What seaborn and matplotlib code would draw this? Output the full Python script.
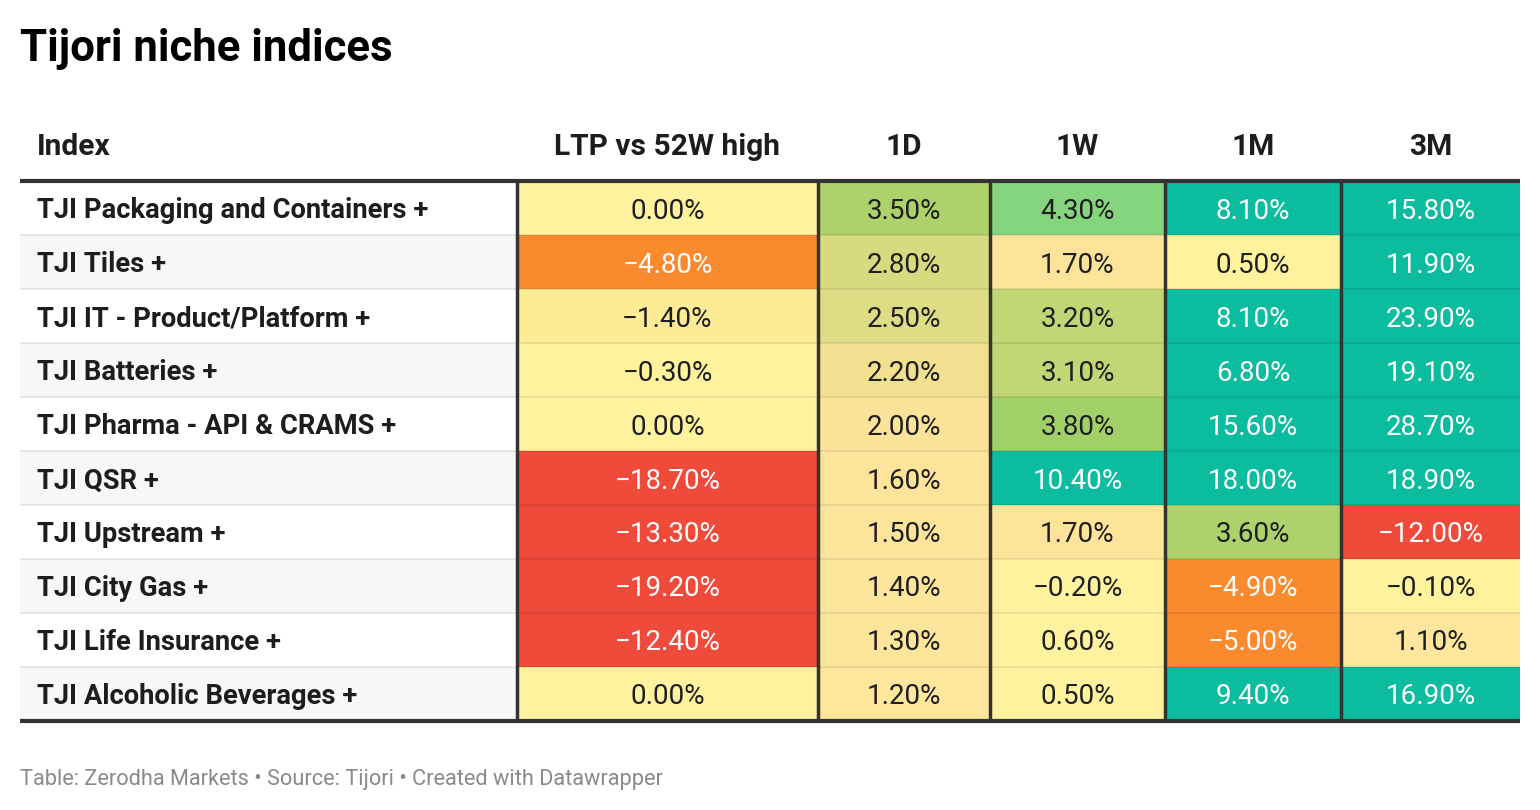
import matplotlib
matplotlib.use("Agg")
import matplotlib.pyplot as plt
import numpy as np
import pandas as pd
import seaborn as sns
from matplotlib.colors import LinearSegmentedColormap
from matplotlib.patches import Rectangle

# --- data ---
index_names = [
    "TJI Packaging and Containers +",
    "TJI Tiles +",
    "TJI IT - Product/Platform +",
    "TJI Batteries +",
    "TJI Pharma - API & CRAMS +",
    "TJI QSR +",
    "TJI Upstream +",
    "TJI City Gas +",
    "TJI Life Insurance +",
    "TJI Alcoholic Beverages +",
]
ltp_vs_high = [0.0, -4.8, -1.4, -0.3, 0.0, -18.7, -13.3, -19.2, -12.4, 0.0]
ret_1d = [3.5, 2.8, 2.5, 2.2, 2.0, 1.6, 1.5, 1.4, 1.3, 1.2]
ret_1w = [4.3, 1.7, 3.2, 3.1, 3.8, 10.4, 1.7, -0.2, 0.6, 0.5]
ret_1m = [8.1, 0.5, 8.1, 6.8, 15.6, 18.0, 3.6, -4.9, -5.0, 9.4]
ret_3m = [15.8, 11.9, 23.9, 19.1, 28.7, 18.9, -12.0, -0.1, 1.1, 16.9]
columns = ["LTP vs 52W high", "1D", "1W", "1M", "3M"]

df = pd.DataFrame(
    {c: v for c, v in zip(columns, [ltp_vs_high, ret_1d, ret_1w, ret_1m, ret_3m])},
    index=index_names,
)
labels = df.map(lambda v: f"{v:.2f}%".replace("-", "\u2212"))

# datawrapper-like gradient, stops given in value space
VMIN, VMAX = -20, 30
stops = [
    (-20, "#f04a3b"), (-10, "#f04a3b"), (-6, "#fa8a2e"), (-4, "#fa8a2e"),
    (-1.5, "#feea94"), (-0.5, "#fff29f"), (0.6, "#fff29f"), (1.2, "#fee59c"),
    (1.8, "#fee49b"), (2.0, "#fbe39a"), (2.2, "#efdf8e"), (2.5, "#e1dc87"),
    (2.8, "#d6d97f"), (3.2, "#bed673"), (3.6, "#aad169"), (3.8, "#9ccf67"),
    (4.3, "#86d47e"), (6.0, "#0cbc9f"), (30, "#0cbc9f"),
]
cmap = LinearSegmentedColormap.from_list(
    "dw", [((v - VMIN) / (VMAX - VMIN), c) for v, c in stops]
)

sns.set_theme(style="white")
plt.rcParams["font.family"] = ["Roboto", "DejaVu Sans"]

W, H = 1540, 810
fig = plt.figure(figsize=(W / 100, H / 100), dpi=100)


def box(x0, y0, x1, y1):
    return [x0 / W, 1 - y1 / H, (x1 - x0) / W, (y1 - y0) / H]


TOP, BOT = 181, 721
LEFT, RIGHT = 20, 1520
edges = [517, 818, 990, 1165, 1341, 1520]
n = len(index_names)
row_h = (BOT - TOP) / n

base = fig.add_axes([0, 0, 1, 1])
base.set_xlim(0, W)
base.set_ylim(H, 0)
base.axis("off")

# zebra stripes for the index column
for i in range(n):
    if i % 2 == 1:
        base.add_patch(Rectangle((LEFT, TOP + i * row_h), edges[0] - LEFT, row_h,
                                 color="#f7f7f7", lw=0))

# one heatmap per value column (columns have different widths)
for j, col in enumerate(columns):
    ax = fig.add_axes(box(edges[j], TOP, edges[j + 1], BOT))
    sns.heatmap(df[[col]], ax=ax, cmap=cmap, vmin=VMIN, vmax=VMAX,
                annot=labels[[col]].values, fmt="", cbar=False,
                xticklabels=False, yticklabels=False,
                annot_kws={"size": 20})
    for t, v in zip(ax.texts, df[col].values):
        t.set_color("white" if (v <= -4 or v >= 6) else "#1f1f1f")
        t.set_va("center_baseline")
    ax.set_xlabel("")
    ax.set_ylabel("")

over = fig.add_axes([0, 0, 1, 1])
over.set_xlim(0, W)
over.set_ylim(H, 0)
over.axis("off")
over.patch.set_alpha(0)

# row separators, borders
for i in range(1, n):
    over.hlines(TOP + i * row_h, LEFT, RIGHT, color=(0, 0, 0, 0.08), lw=1.5)
over.vlines(edges[:-1], TOP, BOT, color="#333333", lw=2.5)
over.hlines([TOP, BOT], LEFT, RIGHT, color="#333333", lw=3)

# header
over.text(37, 144, "Index", ha="left", va="center_baseline", fontsize=21.5,
          fontweight="bold", color="#1d1d1d")
for j, col in enumerate(columns):
    over.text((edges[j] + edges[j + 1]) / 2, 144, col, ha="center",
              va="center_baseline", fontsize=21.5, fontweight="bold", color="#1d1d1d")

for i, name in enumerate(index_names):
    over.text(37, TOP + (i + 0.5) * row_h, name, ha="left", va="center_baseline",
              fontsize=19.7, fontweight="bold", color="#1d1d1d")

over.text(20, 45, "Tijori niche indices", ha="left", va="center_baseline",
          fontsize=31.5, fontweight="bold", color="black")
over.text(20, 777, "Table: Zerodha Markets \u2022 Source: Tijori \u2022 Created with Datawrapper",
          ha="left", va="center_baseline", fontsize=15.7, color="#8a8a8a")

fig.savefig("out.png", dpi=100)
